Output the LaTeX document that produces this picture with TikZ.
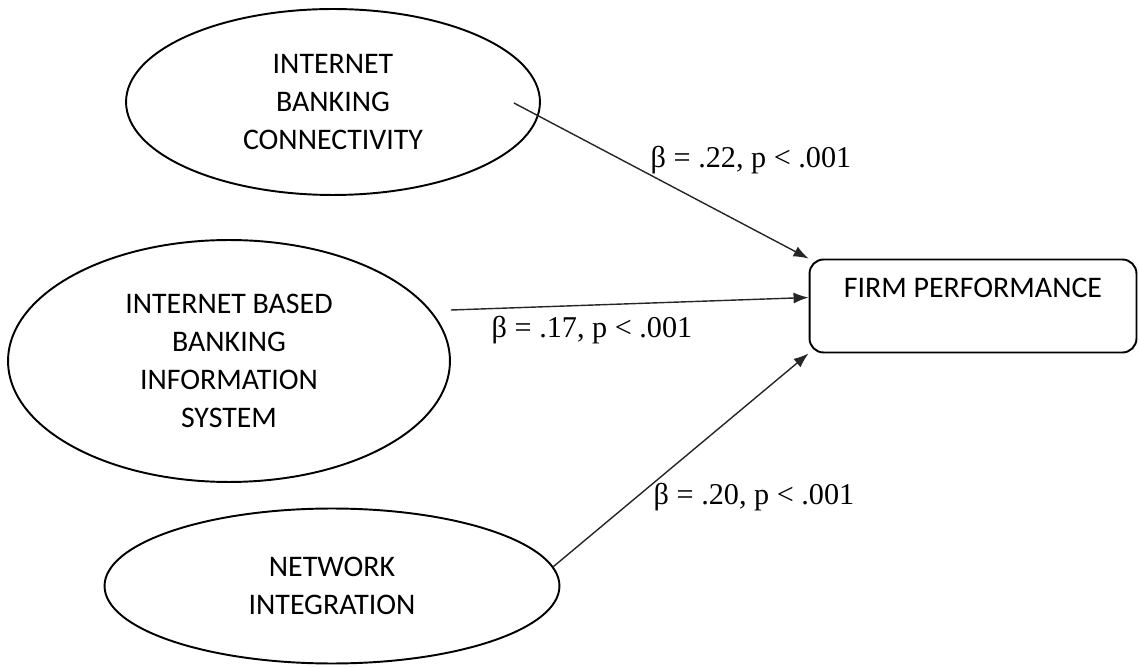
\documentclass[tikz,border=0pt]{standalone}
\usepackage{fontspec}
\setmainfont{Carlito}
\newfontfamily\coeffont{Liberation Serif}
\usetikzlibrary{arrows.meta, shapes.geometric, positioning}

\begin{document}
\begin{tikzpicture}[
  x=0.02cm, y=-0.02cm,
  construct/.style={ellipse, draw=black, line width=1.1pt, font=\fontsize{17}{21.5}\selectfont, align=center, inner sep=0pt},
  outcome/.style={rectangle, draw=black, line width=1.1pt, rounded corners=8pt, font=\fontsize{17}{21.5}\selectfont,
                  minimum width=6.54cm, text height=0.56cm, text depth=0.9cm, inner ysep=0.2cm},
  path/.style={-{Latex[length=3mm, width=2.2mm]}, line width=0.8pt, black!85},
  coef/.style={font=\coeffont\fontsize{17.2}{20}\selectfont},
]
  \useasboundingbox (0,0) rectangle (1139,668);

  % Predictors
  \node[construct, minimum width=8.28cm, minimum height=3.72cm] (conn) at (333,102)
        {INTERNET\\BANKING\\CONNECTIVITY};
  \node[construct, minimum width=8.84cm, minimum height=4.84cm] (ibis) at (229,361)
        {INTERNET BASED\\BANKING\\INFORMATION\\SYSTEM};
  \node[construct, minimum width=9.1cm, minimum height=3.1cm] (netint) at (332,586)
        {NETWORK\\INTEGRATION};

  % Outcome
  \node[outcome] (perf) at (973,306) {FIRM PERFORMANCE};

  % Paths
  \draw[path] ([xshift=-0.54cm, yshift=-0.02cm]conn.east) -- (perf.north west);
  \draw[path] ([yshift=1.02cm]ibis.east) -- (perf.base west);
  \draw[path] (netint.5) -- (perf.south west);

  % Coefficients
  \node[coef] (b1) at (751,160) {β = .22, p < .001};
  \node[coef] (b2) at (592,330) {β = .17, p < .001};
  \node[coef] (b3) at (754,497) {β = .20, p < .001};
\end{tikzpicture}
\end{document}
